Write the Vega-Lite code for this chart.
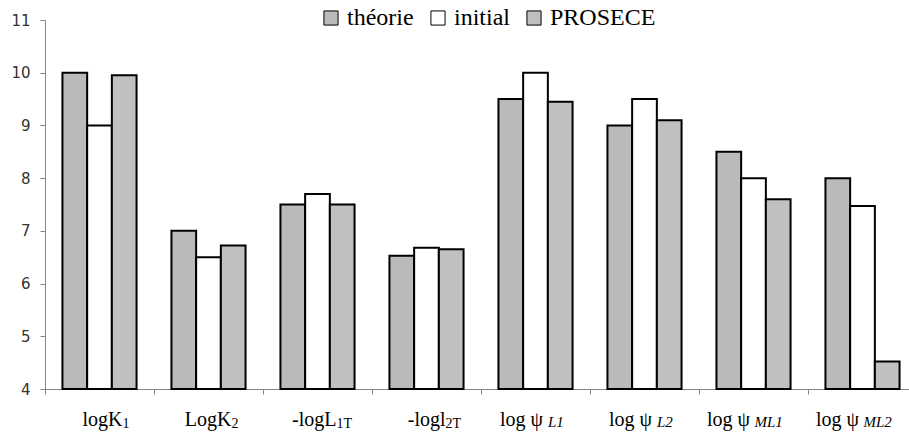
{
  "$schema": "https://vega.github.io/schema/vega-lite/v6.json",
  "autosize": {"type": "none"},
  "padding": {"left": 45, "top": 20, "right": 0, "bottom": 43},
  "width": 864,
  "height": 369,
  "background": "white",
  "config": {"view": {"stroke": null}},
  "datasets": {
    "bars": [
      {"cat": "logK1", "serie": "théorie", "v": 10.0},
      {"cat": "logK1", "serie": "initial", "v": 9.0},
      {"cat": "logK1", "serie": "PROSECE", "v": 9.95},
      {"cat": "LogK2", "serie": "théorie", "v": 7.0},
      {"cat": "LogK2", "serie": "initial", "v": 6.5},
      {"cat": "LogK2", "serie": "PROSECE", "v": 6.72},
      {"cat": "-logL1T", "serie": "théorie", "v": 7.5},
      {"cat": "-logL1T", "serie": "initial", "v": 7.7},
      {"cat": "-logL1T", "serie": "PROSECE", "v": 7.5},
      {"cat": "-logl2T", "serie": "théorie", "v": 6.53},
      {"cat": "-logl2T", "serie": "initial", "v": 6.68},
      {"cat": "-logl2T", "serie": "PROSECE", "v": 6.65},
      {"cat": "logψL1", "serie": "théorie", "v": 9.5},
      {"cat": "logψL1", "serie": "initial", "v": 10.0},
      {"cat": "logψL1", "serie": "PROSECE", "v": 9.45},
      {"cat": "logψL2", "serie": "théorie", "v": 9.0},
      {"cat": "logψL2", "serie": "initial", "v": 9.5},
      {"cat": "logψL2", "serie": "PROSECE", "v": 9.1},
      {"cat": "logψML1", "serie": "théorie", "v": 8.5},
      {"cat": "logψML1", "serie": "initial", "v": 8.0},
      {"cat": "logψML1", "serie": "PROSECE", "v": 7.6},
      {"cat": "logψML2", "serie": "théorie", "v": 8.0},
      {"cat": "logψML2", "serie": "initial", "v": 7.47},
      {"cat": "logψML2", "serie": "PROSECE", "v": 4.52}
    ],
    "labels": [
      {"cat": "logK1", "main": "logK", "sub": "1"},
      {"cat": "LogK2", "main": "LogK", "sub": "2"},
      {"cat": "-logL1T", "main": "-logL", "sub": "1T"},
      {"cat": "-logl2T", "main": "-logl", "sub": "2T"},
      {"cat": "logψL1", "main": "log ψ", "sub": "L1"},
      {"cat": "logψL2", "main": "log ψ", "sub": "L2"},
      {"cat": "logψML1", "main": "log ψ", "sub": "ML1"},
      {"cat": "logψML2", "main": "log ψ", "sub": "ML2"}
    ]
  },
  "encoding": {
    "x": {
      "field": "cat",
      "type": "nominal",
      "scale": {
        "domain": ["logK1", "LogK2", "-logL1T", "-logl2T", "logψL1", "logψL2", "logψML1", "logψML2"],
        "range": [0, 872],
        "paddingInner": 0,
        "paddingOuter": 0
      },
      "axis": {
        "title": null,
        "labels": false,
        "bandPosition": 0,
        "domainColor": "#868686",
        "tickColor": "#868686",
        "tickSize": 5,
        "domainWidth": 1,
        "tickWidth": 1
      }
    }
  },
  "layer": [
    {
      "data": {"name": "bars"},
      "mark": {"type": "bar", "stroke": "black", "strokeWidth": 2, "strokeJoin": "miter"},
      "encoding": {
        "xOffset": {
          "field": "serie",
          "type": "nominal",
          "scale": {"domain": ["théorie", "initial", "PROSECE"], "paddingInner": 0, "paddingOuter": 0.706}
        },
        "y": {
          "field": "v",
          "type": "quantitative",
          "scale": {"domain": [4, 11], "nice": false, "zero": false},
          "axis": {
            "title": null,
            "values": [4, 5, 6, 7, 8, 9, 10, 11],
            "format": "d",
            "grid": false,
            "domainColor": "#868686",
            "tickColor": "#868686",
            "tickSize": 5,
            "labelFont": "DejaVu Sans",
            "labelFontSize": 15,
            "labelColor": "#333333",
            "labelPadding": 10
          }
        },
        "y2": {"datum": 4},
        "fill": {
          "field": "serie",
          "type": "nominal",
          "scale": {"domain": ["théorie", "initial", "PROSECE"], "range": ["#bababa", "#ffffff", "#c0c0c0"]},
          "legend": {
            "title": null,
            "orient": "none",
            "legendX": 274,
            "legendY": -14,
            "direction": "horizontal",
            "symbolType": "square",
            "symbolSize": 200,
            "symbolStrokeColor": "black",
            "symbolStrokeWidth": 1,
            "symbolOpacity": 1,
            "labelFont": "Liberation Serif",
            "labelFontSize": 24,
            "labelColor": "black",
            "labelOffset": 4,
            "labelLimit": 0,
            "columnPadding": 12,
            "padding": 0
          }
        }
      }
    },
    {
      "data": {"name": "labels"},
      "transform": [{"filter": {"field": "cat", "oneOf": ["logK1", "LogK2"]}}],
      "mark": {"type": "text", "font": "Liberation Serif", "fontSize": 20, "align": "right", "baseline": "alphabetic", "dx": 23, "dy": 37, "color": "black"},
      "encoding": {"text": {"field": "main"}, "y": {"datum": 4}}
    },
    {
      "data": {"name": "labels"},
      "transform": [{"filter": {"field": "cat", "oneOf": ["logK1", "LogK2"]}}],
      "mark": {"type": "text", "font": "Liberation Serif", "fontSize": 14, "align": "left", "baseline": "alphabetic", "dx": 23, "dy": 39, "color": "black"},
      "encoding": {"text": {"field": "sub"}, "y": {"datum": 4}}
    },
    {
      "data": {"name": "labels"},
      "transform": [{"filter": {"field": "cat", "oneOf": ["-logL1T", "-logl2T"]}}],
      "mark": {"type": "text", "font": "Liberation Serif", "fontSize": 20, "align": "right", "baseline": "alphabetic", "dx": 19, "dy": 37, "color": "black"},
      "encoding": {"text": {"field": "main"}, "y": {"datum": 4}}
    },
    {
      "data": {"name": "labels"},
      "transform": [{"filter": {"field": "cat", "oneOf": ["-logL1T", "-logl2T"]}}],
      "mark": {"type": "text", "font": "Liberation Serif", "fontSize": 14, "align": "left", "baseline": "alphabetic", "dx": 19, "dy": 39, "color": "black"},
      "encoding": {"text": {"field": "sub"}, "y": {"datum": 4}}
    },
    {
      "data": {"name": "labels"},
      "transform": [{"filter": {"field": "cat", "oneOf": ["logψL1", "logψL2"]}}],
      "mark": {"type": "text", "font": "Liberation Serif", "fontSize": 20, "align": "right", "baseline": "alphabetic", "dx": 7.5, "dy": 37, "color": "black"},
      "encoding": {"text": {"field": "main"}, "y": {"datum": 4}}
    },
    {
      "data": {"name": "labels"},
      "transform": [{"filter": {"field": "cat", "oneOf": ["logψL1", "logψL2"]}}],
      "mark": {"type": "text", "font": "Liberation Serif", "fontSize": 15, "fontStyle": "italic", "align": "left", "baseline": "alphabetic", "dx": 12.5, "dy": 38, "color": "black"},
      "encoding": {"text": {"field": "sub"}, "y": {"datum": 4}}
    },
    {
      "data": {"name": "labels"},
      "transform": [{"filter": {"field": "cat", "oneOf": ["logψML1", "logψML2"]}}],
      "mark": {"type": "text", "font": "Liberation Serif", "fontSize": 20, "align": "right", "baseline": "alphabetic", "dx": -3.5, "dy": 37, "color": "black"},
      "encoding": {"text": {"field": "main"}, "y": {"datum": 4}}
    },
    {
      "data": {"name": "labels"},
      "transform": [{"filter": {"field": "cat", "oneOf": ["logψML1", "logψML2"]}}],
      "mark": {"type": "text", "font": "Liberation Serif", "fontSize": 15, "fontStyle": "italic", "align": "left", "baseline": "alphabetic", "dx": 1, "dy": 38, "color": "black"},
      "encoding": {"text": {"field": "sub"}, "y": {"datum": 4}}
    }
  ]
}
